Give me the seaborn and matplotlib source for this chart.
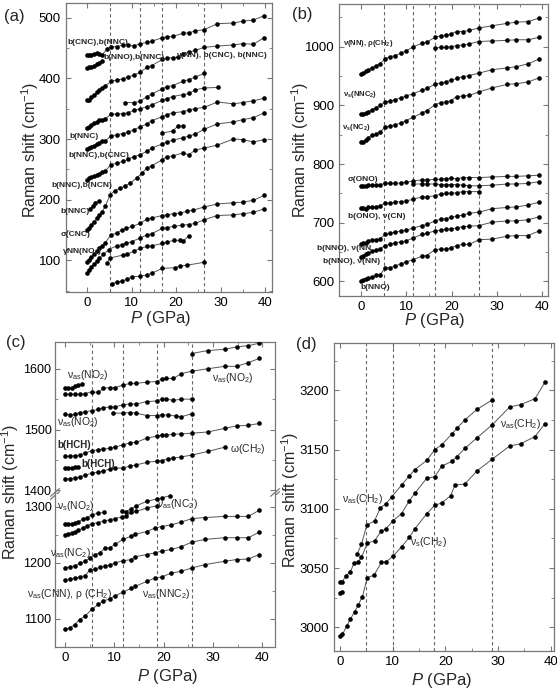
"""
Pressure dependence of Raman modes, four panels (a)-(d).
"""

import pandas as pd
import matplotlib
matplotlib.use("Agg")
import matplotlib.pyplot as plt
from matplotlib.ticker import MultipleLocator
import seaborn as sns

# ---------------- panel (a): 50-520 cm-1 ----------------
A1_P = [0, 0.4, 0.9, 1.5, 2.1, 2.7, 3.3, 4.5, 5.3, 6.6, 8.0, 9.2, 10.4, 11.9, 13.4, 14.5,
        16.9, 17.9, 19.2, 21.5, 22.9, 24.3, 26.3, 29.3, 32.9, 35.0, 37.4, 39.8]
A1_V = [438, 438, 439, 440, 441, 440, 438, 449, 452, 452, 455, 455, 453, 457, 459, 461,
        467, 468, 469, 474, 475, 478, 480, 490, 491, 494, 496, 503]
A2_P = [0, 0.4, 0.9, 1.5, 2.1, 2.7, 3.3]
A2_V = [417, 418, 419, 421, 424, 426, 428]
A3_P = [0, 0.4, 0.9, 1.5, 2.1, 2.7, 3.3, 4.0, 5.3, 6.6, 8.0, 9.2, 10.4, 11.9, 13.4, 14.5,
        16.9, 17.9, 19.2, 20.5, 21.5, 22.9, 24.3, 26.3, 29.3, 32.9, 35.0, 37.4, 39.8]
A3_V = [364, 365, 369, 373, 377, 381, 384, 387, 395, 397, 399, 402, 405, 410, 418, 421,
        431, 433, 434, 435, 440, 443, 446, 451, 453, 455, 457, 456, 467]
A4_P = [8.5, 10.4, 11.9, 13.4, 14.5, 16.9, 17.9, 19.2, 21.5, 22.9, 24.3, 26.3]
A4_V = [360, 360, 362, 370, 374, 383, 386, 388, 395, 398, 402, 408]
A5_P = [0, 0.4, 0.9, 1.5, 2.1, 2.7, 3.3, 4.0, 5.3, 6.6, 8.0, 9.2, 10.4, 11.9, 13.4, 14.5,
        16.9, 17.9, 19.2, 21.5, 22.9, 24.3, 26.3, 29.5]
A5_V = [318, 320, 323, 326, 328, 331, 332, 333, 341, 341, 342, 343, 347, 350, 353, 356,
        364, 366, 370, 373, 375, 381, 384, 385]
A6_P = [0, 0.4, 0.9, 1.5, 2.1, 2.7, 3.3, 4.0, 5.3, 6.6, 8.0, 9.2, 10.4, 11.9, 13.4, 14.5,
        16.9, 17.9, 19.2, 21.5, 22.9, 24.3, 26.3, 29.3, 32.9, 35.0, 37.4, 39.8]
A6_V = [284, 285, 287, 289, 292, 294, 296, 297, 305, 307, 309, 311, 315, 320, 325, 330,
        337, 340, 343, 345, 348, 350, 352, 361, 358, 360, 363, 367]
A7_P = A6_P
A7_V = [233, 235, 237, 239, 241, 243, 245, 247, 258, 260, 263, 267, 271, 274, 280, 285,
        292, 295, 298, 302, 305, 308, 316, 325, 328, 332, 335, 343]
A8_P = [16.9, 19.2, 20.5, 21.5]
A8_V = [310, 313, 322, 322]
A9_P = [0, 0.4, 0.9, 1.5, 2.1, 2.7, 3.3, 4.0, 5.1, 6.2, 7.4, 8.5, 9.6, 11.1, 12.3, 13.4,
        14.5, 16.9, 17.9, 19.2, 21.5, 22.9, 24.3, 26.3, 29.3, 32.9, 35.0, 37.4, 39.8]
A9_V = [150, 154, 159, 164, 170, 175, 180, 189, 208, 215, 219, 223, 227, 236, 244, 252,
        256, 266, 271, 272, 277, 274, 282, 285, 290, 300, 299, 295, 299]
A10_P = [0.6, 1.2, 1.8, 2.5]
A10_V = [184, 190, 195, 198]
A11_P = [0, 0.4, 0.9, 1.5, 2.1, 2.7, 3.3, 4.0, 5.3, 6.6, 7.7, 8.8, 10.0, 11.9, 13.4, 14.5,
         16.9, 17.9, 19.4, 20.9, 22.4, 23.9, 26.3, 29.3, 32.9, 35.0, 37.4, 39.8]
A11_V = [98, 101, 105, 110, 115, 120, 124, 129, 142, 145, 150, 153, 156, 161, 168, 170,
         174, 175, 177, 178, 181, 183, 188, 193, 195, 196, 199, 207]
A12_P = [0, 0.4, 0.9, 1.5, 2.1, 2.7, 3.6, 4.8, 6.6, 7.7, 8.8, 10.0, 11.9, 13.4, 14.5,
         16.9, 17.9, 19.4, 21.3, 22.8, 24.3, 26.3, 29.3, 32.9, 35.0, 37.4, 39.8]
A12_V = [80, 84, 89, 94, 99, 104, 110, 118, 124, 126, 128, 131, 137, 142, 144,
         153, 154, 156, 158, 159, 161, 167, 174, 175, 177, 179, 185]
A13_P = [4.4, 5.1, 8.1, 8.9, 10.4, 11.9, 13.4, 14.5, 16.9, 17.9, 19.4, 20.9, 21.6, 22.8]
A13_V = [95, 104, 109, 110, 115, 120, 123, 124, 128, 130, 133, 133, 132, 140]
A14_P = [5.5, 6.6, 7.7, 8.9, 10.0, 11.9, 13.4, 14.5, 16.9, 19.8, 20.9, 22.4, 26.3]
A14_V = [62, 64, 66, 69, 73, 74, 76, 79, 87, 88, 91, 92, 97]
A_DASH = [5.0, 11.8, 16.8, 26.3]

# ---------------- panel (b): 580-1070 cm-1 ----------------
B_P = [0, 0.5, 1.1, 1.6, 2.4, 3.3, 4.2, 5.3, 6.4, 7.5, 8.75, 9.9, 11.5, 13.4,
       14.5, 16.3, 17.6, 18.75, 19.8, 21.1, 22.4, 23.9, 26.0, 29.0, 32.3, 34.3, 36.9, 39.3]
B1_V = [954, 955, 958, 961, 964, 968, 971, 980, 983, 985, 989, 993, 1000, 1006,
        1008, 1016, 1019, 1020, 1022, 1026, 1026, 1028, 1032, 1036, 1040, 1042, 1043, 1049]
B2_P = [16.3, 17.6, 18.75, 19.8, 21.1, 22.4, 23.9, 26.0, 29.0, 32.3, 34.3, 36.9, 39.3]
B2_V = [998, 999, 999, 1000, 1002, 1003, 1005, 1009, 1010, 1011, 1012, 1012, 1016]
B3_V = [885, 886, 887, 889, 893, 896, 900, 906, 907, 910, 913, 916, 920, 926,
        929, 936, 938, 940, 943, 946, 949, 951, 955, 961, 964, 966, 971, 979]
B4_V = [837, 838, 841, 845, 849, 851, 855, 863, 865, 867, 870, 874, 880, 887,
        891, 901, 905, 906, 908, 915, 916, 917, 923, 930, 936, 937, 940, 947]
B5_V = [763, 762, 763, 764, 764, 765, 765, 767, 767, 767, 768, 769, 771, 773,
        773, 774, 774, 775, 776, 775, 777, 777, 777, 778, 779, 779, 780, 781]
B6_P = [11.5, 13.4, 14.5, 16.3, 17.6, 18.75, 19.8, 21.1, 22.4, 23.9, 26.0, 29.0,
        32.3, 34.3, 36.9, 39.3]
B6_V = [766, 766, 766, 766, 765, 765, 765, 765, 764, 763, 763, 764, 766, 766, 767, 770]
B7_P = [0, 0.5, 1.1, 1.6, 2.4, 3.3, 4.2, 5.3, 6.4, 7.5, 8.75, 9.9, 11.5, 13.4,
        14.5, 16.3, 17.6, 18.75, 19.8, 21.1, 22.4, 23.9, 26.0]
B7_V = [725, 725, 724, 726, 727, 727, 729, 734, 733, 735, 736, 737, 740, 744,
        744, 746, 749, 750, 750, 751, 753, 753, 753]
B8_V = [663, 665, 666, 669, 671, 671, 673, 680, 682, 684, 686, 687, 691, 695,
        697, 703, 706, 707, 709, 711, 713, 716, 718, 724, 726, 727, 730, 735]
B9_V = [641, 643, 646, 648, 651, 653, 656, 661, 663, 666, 667, 669, 674, 680,
        682, 686, 687, 689, 689, 691, 693, 694, 695, 701, 703, 703, 705, 710]
B10_V = [600, 602, 604, 606, 607, 610, 611, 623, 623, 626, 630, 633, 637, 643,
         644, 654, 655, 655, 657, 661, 663, 663, 671, 672, 677, 678, 678, 686]
B_DASH = [5.1, 11.5, 16.3, 26.0]

# ---------------- panel (c): 1050-1645 cm-1, broken axis ----------------
C1_P = [25.7, 29.0, 32.4, 34.8, 37.2, 39.4]
C1_V = [1625, 1630, 1632, 1636, 1638, 1642]
C2_P = [0, 0.7, 1.4, 2.0, 2.7, 3.4]
C2_V = [1569, 1569, 1568, 1572, 1573, 1575]
C3_P = [0, 1.0, 2.0, 3.0, 4.0, 5.4, 6.8, 7.8, 9.1, 10.1, 11.8, 13.2, 14.5, 16.6, 18.6,
        19.6, 20.6, 22.0, 23.6, 25.7, 29.0, 32.4, 34.8, 37.2, 39.4]
C3_V = [1558, 1558, 1558, 1558, 1559, 1562, 1561, 1568, 1569, 1569, 1573, 1576, 1576,
        1578, 1579, 1583, 1584, 1584, 1592, 1596, 1600, 1604, 1604, 1610, 1617]
C4_P = [0, 1.0, 2.0, 3.0, 4.0, 5.4, 6.8, 7.8, 9.1, 10.1, 11.8, 13.2, 14.5, 16.6, 18.6,
        19.6, 20.6, 22.0, 23.6, 25.7]
C4_V = [1525, 1524, 1525, 1528, 1529, 1531, 1533, 1536, 1537, 1537, 1541, 1542, 1542,
        1546, 1547, 1550, 1550, 1548, 1550, 1550]
C5_P = [9.8, 11.8, 13.2, 14.5, 16.6, 18.6, 19.6, 21.0, 22.6, 23.6, 25.7]
C5_V = [1527, 1527, 1528, 1527, 1523, 1523, 1524, 1524, 1522, 1521, 1526]
C6_P = C3_P
C6_V = [1456, 1456, 1457, 1458, 1461, 1465, 1467, 1468, 1469, 1471, 1475, 1478, 1479,
        1486, 1489, 1491, 1491, 1492, 1493, 1494, 1496, 1502, 1506, 1507, 1510]
C7_P = [0, 0.7, 1.4, 2.0, 2.7]
C7_V = [1436, 1437, 1437, 1438, 1439]
C8_P = [0, 1.0, 2.0, 3.0, 4.0, 5.4, 6.8, 7.8, 9.1, 10.1, 11.8, 13.2, 14.5, 16.6, 18.6,
        19.6, 21.0, 22.0, 23.6, 25.7, 29.0, 32.4]
C8_V = [1418, 1419, 1420, 1422, 1425, 1428, 1430, 1432, 1435, 1436, 1437, 1440, 1442,
        1446, 1448, 1449, 1452, 1453, 1455, 1458, 1464, 1471]
C9_P = [0, 0.7, 1.4, 2.0, 2.7, 3.6, 4.5, 5.5, 6.8, 8.0]
C9_V = [1269, 1269, 1270, 1272, 1273, 1278, 1281, 1286, 1289, 1290]
C10_P = [11.5, 12.3, 13.5, 14.5, 16.6, 18.6, 19.6, 21.3]
C10_V = [1292, 1291, 1297, 1302, 1310, 1314, 1316, 1320]
C11_P = [0, 0.7, 1.4, 2.0, 2.7, 3.6, 4.5, 5.5, 6.8, 8.0, 9.1, 10.1, 11.5, 12.3, 13.5,
         14.5, 16.6, 18.6]
C11_V = [1250, 1251, 1253, 1255, 1258, 1262, 1266, 1270, 1272, 1275, 1277, 1279, 1282,
         1283, 1290, 1292, 1298, 1302]
C12_P = [0, 1.0, 2.0, 3.0, 4.1, 5.1, 6.1, 7.1, 8.1, 9.1, 10.1, 11.8, 13.5, 14.2, 16.6,
         18.2, 19.6, 21.6, 23.6, 25.7, 28.4, 32.4, 34.8, 37.2, 39.4]
C12_V = [1191, 1193, 1195, 1199, 1203, 1209, 1215, 1218, 1226, 1227, 1233, 1242, 1248,
         1251, 1256, 1262, 1265, 1268, 1273, 1279, 1281, 1283, 1283, 1283, 1294]
C13_P = C12_P
C13_V = [1170, 1171, 1173, 1175, 1177, 1188, 1189, 1192, 1194, 1196, 1200, 1204, 1206,
         1211, 1215, 1218, 1221, 1224, 1229, 1237, 1242, 1245, 1245, 1245, 1255]
C14_P = [0, 1.0, 2.0, 3.0, 4.1, 5.4, 6.8, 7.8, 9.1, 10.1, 11.8, 13.5, 14.2, 16.6, 18.2,
         19.6, 21.6, 23.6, 25.7, 28.4, 32.4, 34.8, 37.2, 39.4]
C14_V = [1082, 1084, 1090, 1099, 1105, 1117, 1126, 1132, 1136, 1141, 1148, 1155, 1158,
         1167, 1173, 1175, 1182, 1185, 1191, 1197, 1203, 1206, 1207, 1215]
C_DASH = [5.4, 11.8, 18.6, 25.7]

# ---------------- panel (d): CH2 stretching ----------------
D1_P = [3.3, 4.1, 5.1, 6.6, 7.7, 8.7, 9.8, 11.7, 13.2, 14.2, 16.5, 18.0, 19.3, 21.2,
        22.2, 23.7, 26.0, 28.9]
D1_V = [3062, 3070, 3086, 3090, 3101, 3104, 3110, 3120, 3128, 3133, 3141, 3150, 3154,
        3163, 3168, 3175, 3184, 3192]
D2_P = [0, 0.4, 1.1, 2.0, 2.7, 3.4, 4.1, 5.2, 6.6, 7.8, 8.7, 10.1, 11.7, 13.2, 14.2,
        16.5, 18.0, 19.3, 21.2, 22.2, 23.7, 26.0, 28.9, 32.2, 34.3, 37.0, 38.9]
D2_V = [3038, 3038, 3043, 3047, 3054, 3055, 3059, 3071, 3073, 3081, 3083, 3090, 3096,
        3107, 3113, 3126, 3127, 3136, 3140, 3144, 3151, 3160, 3171, 3186, 3188, 3193, 3207]
D3_P = [0, 0.4]
D3_V = [3029, 3030]
D4_P = [0, 0.5, 1.3, 2.0, 2.8, 3.5, 4.3, 5.2, 6.5, 7.9, 8.7, 10.1, 11.7, 13.2, 14.2,
        16.5, 18.0, 19.3, 21.0, 21.8, 23.7, 26.0, 28.9, 32.2, 34.3, 37.0, 38.9]
D4_V = [2993, 2994, 3001, 3007, 3013, 3019, 3026, 3042, 3044, 3055, 3055, 3060, 3068,
        3076, 3083, 3096, 3103, 3105, 3111, 3120, 3121, 3132, 3142, 3153, 3155, 3161, 3172]
D_DASH = [4.9, 10.1, 17.9, 28.8]

LINE_C = "#555555"
DASH_C = "#666666"
FRAME_C = "#777777"
W, H = 557, 694


def to_frame(series):
    rows = []
    for sid, (p, v) in enumerate(series):
        for x, y in zip(p, v):
            rows.append((sid, x, y))
    return pd.DataFrame(rows, columns=["sid", "P", "shift"])


def draw_series(ax, series):
    df = to_frame(series)
    sns.lineplot(data=df, x="P", y="shift", units="sid", estimator=None,
                 color=LINE_C, linewidth=0.7, ax=ax, legend=False)
    sns.scatterplot(data=df, x="P", y="shift", color="black", s=11,
                    linewidth=0, ax=ax, legend=False, zorder=3)
    ax.set_xlabel("")
    ax.set_ylabel("")


def style_axes(ax, xlim, ylim, ymaj, dashes, xmaj=10):
    for x in dashes:
        ax.axvline(x, color=DASH_C, lw=0.8, ls=(0, (3, 2.5)), zorder=1)
    ax.set_xlim(*xlim)
    ax.set_ylim(*ylim)
    ax.xaxis.set_major_locator(MultipleLocator(xmaj))
    ax.xaxis.set_minor_locator(MultipleLocator(xmaj / 2))
    ax.yaxis.set_major_locator(MultipleLocator(ymaj))
    ax.yaxis.set_minor_locator(MultipleLocator(ymaj / 2))


def px_rect(l, t, r, b):
    return [l / W, 1 - b / H, (r - l) / W, (b - t) / H]


def label(ax, x, y, s, size=6, bold=True):
    ax.text(x, y, s, fontsize=size, fontweight="bold" if bold else "normal",
            va="center", ha="left", clip_on=False, zorder=4)


sns.set_style("ticks")
plt.rcParams.update({
    "font.family": ["Liberation Sans", "DejaVu Sans"],
    "mathtext.fontset": "custom",
    "mathtext.rm": "Liberation Sans",
    "mathtext.it": "Liberation Sans:italic",
    "mathtext.bf": "Liberation Sans:bold",
    "mathtext.default": "regular",
    "axes.edgecolor": FRAME_C,
    "axes.linewidth": 0.9,
    "xtick.color": FRAME_C, "ytick.color": FRAME_C,
    "xtick.labelcolor": "black", "ytick.labelcolor": "black",
    "xtick.direction": "in", "ytick.direction": "in",
    "xtick.top": True, "ytick.right": True,
    "xtick.labelsize": 9.5, "ytick.labelsize": 9.5,
    "xtick.major.size": 3.5, "ytick.major.size": 3.5,
    "xtick.minor.size": 2, "ytick.minor.size": 2,
})

fig = plt.figure(figsize=(W / 100, H / 100), dpi=100)

# (a)
ax_a = fig.add_axes(px_rect(65.7, 3, 272, 292))
draw_series(ax_a, [(A1_P, A1_V), (A2_P, A2_V), (A3_P, A3_V), (A4_P, A4_V),
                   (A5_P, A5_V), (A6_P, A6_V), (A7_P, A7_V), (A8_P, A8_V),
                   (A9_P, A9_V), (A10_P, A10_V), (A11_P, A11_V), (A12_P, A12_V),
                   (A13_P, A13_V), (A14_P, A14_V)])
style_axes(ax_a, (-4.9, 41.6), (48, 524), 100, A_DASH)
label(ax_a, -4.6, 459, "b(CNC),b(NNC)")
label(ax_a, 3.7, 435, "b(NNO),b(NNC)")
label(ax_a, 20.0, 437, "ν(NN), b(CNC), b(NNC)")
label(ax_a, -4.1, 304, "b(NNC)")
label(ax_a, -4.3, 273, "b(NNC),b(CNC)")
label(ax_a, -8.2, 223, "b(NNC),b(NCN)")
label(ax_a, -6.1, 181, "b(NNC)")
label(ax_a, -6.1, 143, "σ(CNC)")
label(ax_a, -5.7, 115, "γNN(NO$_2$)")

# (b)
ax_b = fig.add_axes(px_rect(339, 4, 548, 296))
draw_series(ax_b, [(B_P, B1_V), (B2_P, B2_V), (B_P, B3_V), (B_P, B4_V),
                   (B_P, B5_V), (B6_P, B6_V), (B7_P, B7_V), (B_P, B8_V),
                   (B_P, B9_V), (B_P, B10_V)])
style_axes(ax_b, (-4.9, 41.3), (575, 1073), 100, B_DASH)
label(ax_b, -4.0, 1006, "ν(NN), ρ(CH$_2$)", 5.5)
label(ax_b, -4.0, 919, "ν$_s$(NNC$_2$)", 5.5)
label(ax_b, -4.2, 863, "ν$_s$(NC$_2$)", 5.5)
label(ax_b, -3.1, 774, "σ(ONO)")
label(ax_b, -2.9, 711, "b(ONO), ν(CN)")
label(ax_b, -9.7, 656, "b(NNO), ν(NN")
label(ax_b, -8.4, 634, "b(NNO), ν(NN)")
label(ax_b, -0.2, 590, "b(NNO)")

# (c) broken axis
ax_cu = fig.add_axes(px_rect(55, 342, 275, 494))
ax_cl = fig.add_axes(px_rect(55, 494, 275, 647))
draw_series(ax_cu, [(C1_P, C1_V), (C2_P, C2_V), (C3_P, C3_V), (C4_P, C4_V),
                    (C5_P, C5_V), (C6_P, C6_V), (C7_P, C7_V), (C8_P, C8_V)])
draw_series(ax_cl, [(C9_P, C9_V), (C10_P, C10_V), (C11_P, C11_V), (C12_P, C12_V),
                    (C13_P, C13_V), (C14_P, C14_V)])
style_axes(ax_cu, (-2, 42.6), (1394, 1644), 100, C_DASH)
style_axes(ax_cl, (-2, 42.6), (1050, 1323), 100, C_DASH)
ax_cu.spines["bottom"].set_visible(False)
ax_cu.tick_params(axis="x", which="both", bottom=False, labelbottom=False)
ax_cl.spines["top"].set_visible(False)
ax_cl.tick_params(axis="x", which="both", top=False)
for ax_c in (ax_cu, ax_cl):
    ax_c.tick_params(axis="y", labelsize=9, pad=2.5)
for x0 in (0, 1):
    ax_cu.plot([x0 - 0.02, x0 + 0.02], [-0.035, 0.015], transform=ax_cu.transAxes,
               color=FRAME_C, lw=0.9, clip_on=False)
    ax_cl.plot([x0 - 0.02, x0 + 0.02], [0.985, 1.035], transform=ax_cl.transAxes,
               color=FRAME_C, lw=0.9, clip_on=False)
label(ax_cu, 0.4, 1590, "ν$_{as}$(NO$_2$)", 7.5, False)
label(ax_cu, 29.8, 1584, "ν$_{as}$(NO$_2$)", 7.5, False)
label(ax_cu, -1.6, 1512, "ν$_{as}$(NO$_2$)", 7.5, False)
label(ax_cu, -1.6, 1475, "b(HCH)", 7)
label(ax_cu, 3.4, 1444, "b(HCH)", 7)
label(ax_cu, 33.5, 1468, "ω(CH$_2$)", 7.5, False)
label(ax_cl, -1.6, 1301, "ν$_s$(NO$_2$)", 7.5, False)
label(ax_cl, 18.6, 1306, "ν$_{as}$(NC$_2$)", 7.5, False)
label(ax_cl, -3.0, 1217, "ν$_{as}$(NC$_2$)", 7.5, False)
label(ax_cl, -7.6, 1145, "ν$_{as}$(CNN), ρ (CH$_2$)", 7.5, False)
label(ax_cl, 15.6, 1145, "ν$_{as}$(NNC$_2$)", 7.5, False)

# (d)
ax_d = fig.add_axes(px_rect(334, 343, 554, 651))
draw_series(ax_d, [(D1_P, D1_V), (D2_P, D2_V), (D3_P, D3_V), (D4_P, D4_V)])
style_axes(ax_d, (-1.1, 40.6), (2980, 3240), 50, D_DASH)
label(ax_d, 0.4, 3108, "ν$_{as}$(CH$_2$)", 7.5, False)
label(ax_d, 30.4, 3172, "ν$_{as}$(CH$_2$)", 7.5, False)
label(ax_d, 13.3, 3072, "ν$_s$(CH$_2$)", 7.5, False)

# axis titles and panel letters
YLAB = "Raman shift (cm$^{-1}$)"
XLAB = r"$\mathit{P}$ (GPa)"
for x, y in [(30, 150), (300, 150), (10, 492), (290, 500)]:
    fig.text(x / W, 1 - y / H, YLAB, rotation=90, fontsize=11.5,
             ha="center", va="center")
for x, y in [(161, 319), (435, 321), (168, 676), (442, 681)]:
    fig.text(x / W, 1 - y / H, XLAB, fontsize=12, ha="center", va="center")
for x, y, s in [(4, 16, "(a)"), (292, 14, "(b)"), (6, 343, "(c)"), (296, 344, "(d)")]:
    fig.text(x / W, 1 - y / H, s, fontsize=12, ha="left", va="center")

fig.savefig("out.png", dpi=100)
